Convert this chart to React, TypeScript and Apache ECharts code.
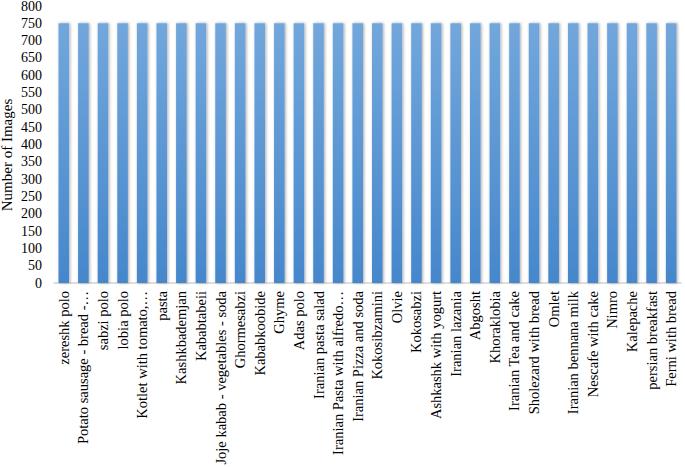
import React, { useEffect, useRef } from "react";
import * as echarts from "echarts";

const categories: string[] = [
  "zereshk polo",
  "Potato sausage - bread -…",
  "sabzi polo",
  "lobia polo",
  "Kotlet with tomato,…",
  "pasta",
  "Kashkbademjan",
  "Kababtabeii",
  "Joje kabab - vegetables - soda",
  "Ghormesabzi",
  "Kababkoobide",
  "Ghyme",
  "Adas polo",
  "Iranian pasta salad",
  "Iranian Pasta with alfredo…",
  "Iranian Pizza and soda",
  "Kokosibzamini",
  "Olvie",
  "Kokosabzi",
  "Ashkashk with yogurt",
  "Iranian lazania",
  "Abgosht",
  "Khoraklobia",
  "Iranian Tea and cake",
  "Sholezard with bread",
  "Omlet",
  "Iranian bennana milk",
  "Nescafe with cake",
  "Nimro",
  "Kalepache",
  "persian breakfast",
  "Ferni with bread",
];

const imageCounts: number[] = [
  750, 750, 750, 750, 750, 750, 750, 750, 750, 750, 750, 750, 750, 750, 750, 750,
  750, 750, 750, 750, 750, 750, 750, 750, 750, 750, 750, 750, 750, 750, 750, 750,
];

const yAxisTitle = "Number of Images";

export default function App() {
  const ref = useRef<HTMLDivElement>(null);
  useEffect(() => {
    document.body.style.margin = "0";
    if (!ref.current) return;
    const chart = echarts.init(ref.current, undefined, { renderer: "svg" });
    const font = "'Liberation Serif', 'Times New Roman', serif";
    chart.setOption({
      animation: false,
      backgroundColor: "#ffffff",
      textStyle: { fontFamily: font },
      grid: {
        left: 54,
        right: 4,
        top: 6,
        bottom: 184,
        containLabel: false,
        outerBoundsMode: "none",
      },
      xAxis: {
        type: "category",
        data: categories,
        axisLine: { show: true, lineStyle: { color: "#d4d4d4", width: 1.5 } },
        axisTick: { show: false },
        axisLabel: {
          rotate: 90,
          interval: 0,
          margin: 8,
          color: "#000000",
          fontSize: 14.5,
          fontFamily: font,
        },
      },
      yAxis: {
        type: "value",
        min: 0,
        max: 800,
        interval: 50,
        axisLine: { show: false },
        axisTick: { show: false },
        splitLine: { show: false },
        axisLabel: {
          margin: 12,
          color: "#000000",
          fontSize: 14,
          fontFamily: font,
        },
      },
      graphic: [
        {
          type: "text",
          x: 7,
          y: 155,
          rotation: Math.PI / 2,
          style: {
            text: yAxisTitle,
            fontSize: 15,
            fontFamily: font,
            fill: "#000000",
            align: "center",
            verticalAlign: "middle",
          },
        },
      ],
      series: [
        {
          type: "bar",
          data: imageCounts,
          barWidth: "54%",
          itemStyle: {
            color: new echarts.graphic.LinearGradient(0, 0, 0, 1, [
              { offset: 0, color: "#72a7dc" },
              { offset: 1, color: "#4587cc" },
            ]),
            shadowColor: "rgba(0,0,0,0.35)",
            shadowBlur: 3,
            shadowOffsetX: 1,
            shadowOffsetY: 0,
          },
        },
      ],
    });
    return () => chart.dispose();
  }, []);
  return <div ref={ref} style={{ width: 685, height: 467 }} />;
}
